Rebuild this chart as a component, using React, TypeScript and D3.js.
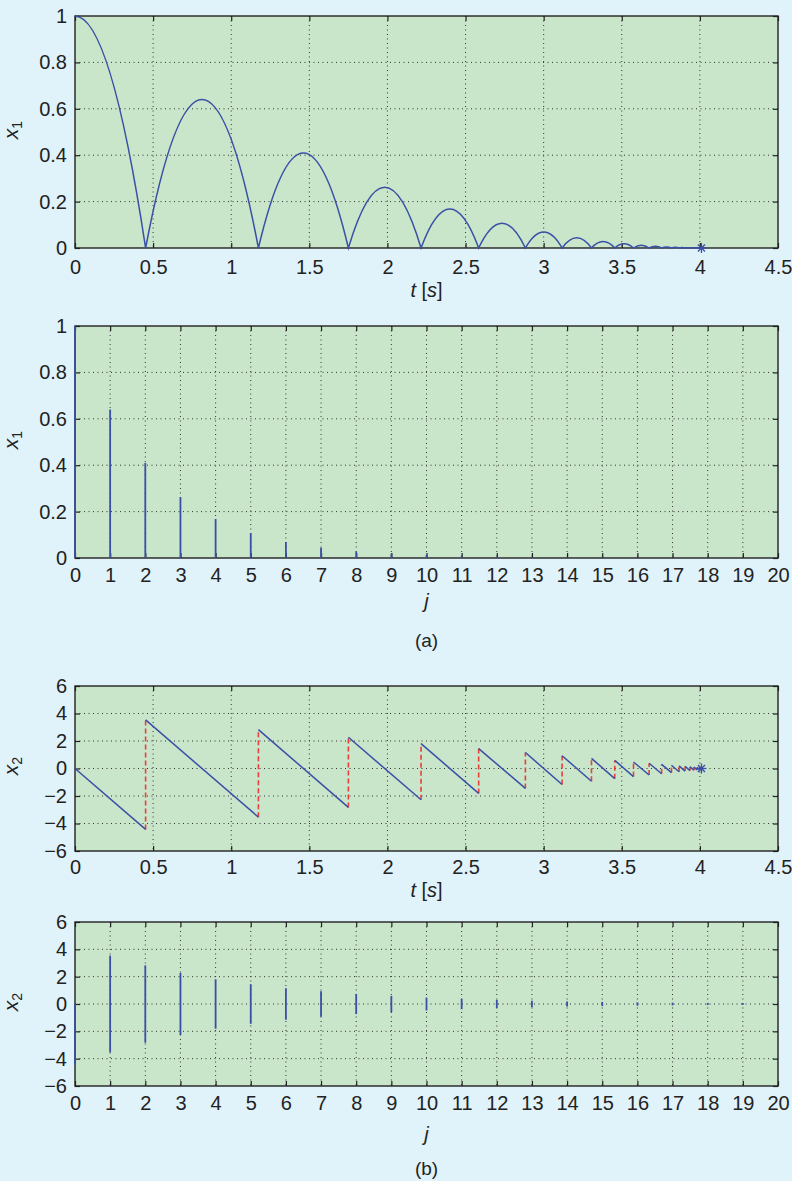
import * as d3 from "d3";
import React, { useEffect, useRef } from "react";

// bouncing ball
const bounceTimes = [0.452, 1.174, 1.75, 2.215, 2.584, 2.883, 3.118, 3.306, 3.455, 3.575, 3.675, 3.755, 3.818, 3.867, 3.905, 3.937, 3.962, 3.982, 3.998];
const peakHeights = [0.64, 0.41, 0.262, 0.168, 0.107, 0.069, 0.044, 0.028, 0.018, 0.0115, 0.0074, 0.0047, 0.003, 0.0019, 0.0012, 0.0008, 0.0005, 0.0003, 0.0002];
const velBefore = [-4.43, -3.54, -2.83, -2.27, -1.81, -1.45, -1.16, -0.93, -0.74, -0.59, -0.47, -0.38, -0.3, -0.24, -0.19, -0.15, -0.12, -0.1, -0.08];
const velAfter = [3.54, 2.83, 2.27, 1.81, 1.45, 1.16, 0.93, 0.74, 0.59, 0.47, 0.38, 0.3, 0.24, 0.19, 0.15, 0.12, 0.1, 0.08, 0.06];
const x1Start = 1;
const x2Start = 0;
const endTime = 4.01;

const timeTicks = [0, 0.5, 1, 1.5, 2, 2.5, 3, 3.5, 4, 4.5];
const jumpTicks = [0, 1, 2, 3, 4, 5, 6, 7, 8, 9, 10, 11, 12, 13, 14, 15, 16, 17, 18, 19, 20];
const x1Ticks = [0, 0.2, 0.4, 0.6, 0.8, 1];
const x2Ticks = [-6, -4, -2, 0, 2, 4, 6];

const FONT = "'Liberation Sans', Arial, Helvetica, sans-serif";
const BLUE = "#3a4fa6";
const RED = "#e8403a";
const PLOT_BG = "#c9e5ca";
const PAGE_BG = "#e0f3fb";

const W = 792;
const H = 1181;
const left = 75;
const right = 778;

const App = () => {
  const chartRef = useRef(null);

  useEffect(() => {
    if (chartRef.current) {
      drawChart();
    }
    return () => {
      d3.select(chartRef.current).selectAll("*").remove();
    };
  }, []);

  const fmt = (d) => (d < 0 ? "\u2212" + Math.abs(d) : String(d));

  // background, grid, ticks and labels of one panel
  const drawPanel = (svg, p) => {
    const g = svg.append("g");
    const { x, y, top, bottom } = p;

    g.append("rect")
      .attr("x", left)
      .attr("y", top)
      .attr("width", right - left)
      .attr("height", bottom - top)
      .attr("fill", PLOT_BG);

    // dotted grid
    g.selectAll(".gx")
      .data(p.xTicks.slice(1, -1))
      .enter()
      .append("line")
      .attr("x1", (d) => x(d))
      .attr("x2", (d) => x(d))
      .attr("y1", top)
      .attr("y2", bottom)
      .attr("stroke", "#333")
      .attr("stroke-width", 1)
      .attr("stroke-dasharray", "1,3.5");
    g.selectAll(".gy")
      .data(p.yTicks.slice(1, -1))
      .enter()
      .append("line")
      .attr("x1", left)
      .attr("x2", right)
      .attr("y1", (d) => y(d))
      .attr("y2", (d) => y(d))
      .attr("stroke", "#333")
      .attr("stroke-width", 1)
      .attr("stroke-dasharray", "1,3.5");

    const axes = g.append("g").attr("font-family", FONT);

    const styleAxis = (sel) => {
      sel.select(".domain").remove();
      sel.selectAll(".tick line").attr("stroke", "#222").attr("stroke-width", 1.2);
      sel.selectAll(".tick text").attr("fill", "#222").attr("font-size", 20).attr("font-family", FONT);
    };

    axes.append("g")
      .attr("transform", `translate(0,${bottom})`)
      .call(d3.axisBottom(x).tickValues(p.xTicks).tickFormat(fmt).tickSize(-5).tickPadding(p.xPad))
      .call(styleAxis);
    axes.append("g")
      .attr("transform", `translate(0,${top})`)
      .call(d3.axisTop(x).tickValues(p.xTicks).tickFormat(() => "").tickSize(-5))
      .call(styleAxis);
    axes.append("g")
      .attr("transform", `translate(${left},0)`)
      .call(d3.axisLeft(y).tickValues(p.yTicks).tickFormat(fmt).tickSize(-5).tickPadding(8))
      .call(styleAxis);
    axes.append("g")
      .attr("transform", `translate(${right},0)`)
      .call(d3.axisRight(y).tickValues(p.yTicks).tickFormat(() => "").tickSize(-5))
      .call(styleAxis);

    g.append("rect")
      .attr("x", left)
      .attr("y", top)
      .attr("width", right - left)
      .attr("height", bottom - top)
      .attr("fill", "none")
      .attr("stroke", "#222")
      .attr("stroke-width", 1.4);

    return svg.append("g");
  };

  const yLabel = (svg, sub, cy) => {
    const t = svg.append("text")
      .attr("transform", `translate(18,${cy}) rotate(-90)`)
      .attr("text-anchor", "middle")
      .attr("font-family", FONT)
      .attr("font-size", 21)
      .attr("fill", "#222");
    t.append("tspan").attr("font-style", "italic").text("x");
    t.append("tspan").attr("font-size", 14).attr("dy", 4).text(sub);
  };

  const xLabelTime = (svg, cy) => {
    const t = svg.append("text")
      .attr("x", (left + right) / 2)
      .attr("y", cy)
      .attr("dy", "0.35em")
      .attr("text-anchor", "middle")
      .attr("font-family", FONT)
      .attr("font-size", 20)
      .attr("fill", "#222");
    t.append("tspan").attr("font-style", "italic").text("t");
    t.append("tspan").text(" [");
    t.append("tspan").attr("font-style", "italic").text("s");
    t.append("tspan").text("]");
  };

  const centerText = (svg, txt, cy, italic, size) => {
    svg.append("text")
      .attr("x", (left + right) / 2)
      .attr("y", cy)
      .attr("dy", "0.35em")
      .attr("text-anchor", "middle")
      .attr("font-family", FONT)
      .attr("font-size", size)
      .attr("font-style", italic ? "italic" : "normal")
      .attr("fill", "#222")
      .text(txt);
  };

  const star = (g, cx, cy) => {
    const r = 5;
    [0, 45, 90, 135].forEach((a) => {
      const dx = r * Math.cos((a * Math.PI) / 180);
      const dy = r * Math.sin((a * Math.PI) / 180);
      g.append("line")
        .attr("x1", cx - dx)
        .attr("x2", cx + dx)
        .attr("y1", cy - dy)
        .attr("y2", cy + dy)
        .attr("stroke", BLUE)
        .attr("stroke-width", 1.3);
    });
  };

  const drawChart = () => {
    const svg = d3.select(chartRef.current)
      .append("svg")
      .attr("width", W)
      .attr("height", H)
      .style("position", "absolute")
      .style("left", 0)
      .style("top", 0)
      .style("background", PAGE_BG);

    const xTime = d3.scaleLinear().domain([0, 4.5]).range([left, right]);
    const xJump = d3.scaleLinear().domain([0, 20]).range([left, right]);

    // ---- panel 1: x1 vs t
    const y1 = d3.scaleLinear().domain([0, 1]).range([248, 16]);
    const g1 = drawPanel(svg, { x: xTime, y: y1, top: 16, bottom: 248, xTicks: timeTicks, yTicks: x1Ticks, xPad: 12 });
    const path1 = d3.path();
    path1.moveTo(xTime(0), y1(x1Start));
    path1.quadraticCurveTo(xTime(bounceTimes[0] / 2), y1(x1Start), xTime(bounceTimes[0]), y1(0));
    bounceTimes.forEach((t0, k) => {
      const t1 = k + 1 < bounceTimes.length ? bounceTimes[k + 1] : endTime;
      path1.quadraticCurveTo(xTime((t0 + t1) / 2), y1(2 * peakHeights[k]), xTime(t1), y1(0));
    });
    g1.append("path").attr("d", path1.toString()).attr("fill", "none").attr("stroke", BLUE).attr("stroke-width", 1.5);
    star(g1, xTime(endTime), y1(0));
    yLabel(svg, "1", 130);
    xLabelTime(svg, 290);

    // ---- panel 2: x1 vs j
    const y2 = d3.scaleLinear().domain([0, 1]).range([558, 326]);
    const g2 = drawPanel(svg, { x: xJump, y: y2, top: 326, bottom: 558, xTicks: jumpTicks, yTicks: x1Ticks, xPad: 10 });
    const x1Hybrid = [x1Start, ...peakHeights];
    g2.selectAll(".stem")
      .data(x1Hybrid)
      .enter()
      .append("line")
      .attr("x1", (d, j) => xJump(j))
      .attr("x2", (d, j) => xJump(j))
      .attr("y1", y2(0))
      .attr("y2", (d) => y2(d))
      .attr("stroke", BLUE)
      .attr("stroke-width", 1.8);
    yLabel(svg, "1", 440);
    centerText(svg, "j", 601, true, 20);
    centerText(svg, "(a)", 640, false, 19);

    // ---- panel 3: x2 vs t
    const y3 = d3.scaleLinear().domain([-6, 6]).range([851, 686]);
    const g3 = drawPanel(svg, { x: xTime, y: y3, top: 686, bottom: 851, xTicks: timeTicks, yTicks: x2Ticks, xPad: 9 });
    const flows = bounceTimes.map((t, k) => ({
      t0: k === 0 ? 0 : bounceTimes[k - 1],
      v0: k === 0 ? x2Start : velAfter[k - 1],
      t1: t,
      v1: velBefore[k],
    }));
    const jumps = bounceTimes.map((t, k) => ({ t, v0: velBefore[k], v1: velAfter[k] }));
    g3.selectAll(".jump")
      .data(jumps)
      .enter()
      .append("line")
      .attr("x1", (d) => xTime(d.t))
      .attr("x2", (d) => xTime(d.t))
      .attr("y1", (d) => y3(d.v0))
      .attr("y2", (d) => y3(d.v1))
      .attr("stroke", RED)
      .attr("stroke-width", 1.6)
      .attr("stroke-dasharray", "5,3");
    const line3 = d3.line().x((d) => xTime(d[0])).y((d) => y3(d[1]));
    g3.selectAll(".flow")
      .data(flows)
      .enter()
      .append("path")
      .attr("d", (d) => line3([[d.t0, d.v0], [d.t1, d.v1]]))
      .attr("fill", "none")
      .attr("stroke", BLUE)
      .attr("stroke-width", 1.5);
    const lastK = bounceTimes.length - 1;
    g3.append("path")
      .attr("d", line3([[bounceTimes[lastK], velAfter[lastK]], [endTime, 0]]))
      .attr("fill", "none")
      .attr("stroke", BLUE)
      .attr("stroke-width", 1.5);
    star(g3, xTime(endTime), y3(0));
    yLabel(svg, "2", 766);
    xLabelTime(svg, 890);

    // ---- panel 4: x2 vs j
    const y4 = d3.scaleLinear().domain([-6, 6]).range([1086, 922]);
    const g4 = drawPanel(svg, { x: xJump, y: y4, top: 922, bottom: 1086, xTicks: jumpTicks, yTicks: x2Ticks, xPad: 10 });
    const x2Ranges = flows.map((d, j) => ({ j, hi: d.v0, lo: d.v1 }));
    x2Ranges.push({ j: bounceTimes.length, hi: velAfter[lastK], lo: -velAfter[lastK] });
    g4.selectAll(".stem")
      .data(x2Ranges)
      .enter()
      .append("line")
      .attr("x1", (d) => xJump(d.j))
      .attr("x2", (d) => xJump(d.j))
      .attr("y1", (d) => y4(d.lo))
      .attr("y2", (d) => y4(d.hi))
      .attr("stroke", BLUE)
      .attr("stroke-width", 1.8);
    yLabel(svg, "2", 1002);
    centerText(svg, "j", 1134, true, 20);
    centerText(svg, "(b)", 1168, false, 19);
  };

  return <div ref={chartRef} />;
};

export default App;
